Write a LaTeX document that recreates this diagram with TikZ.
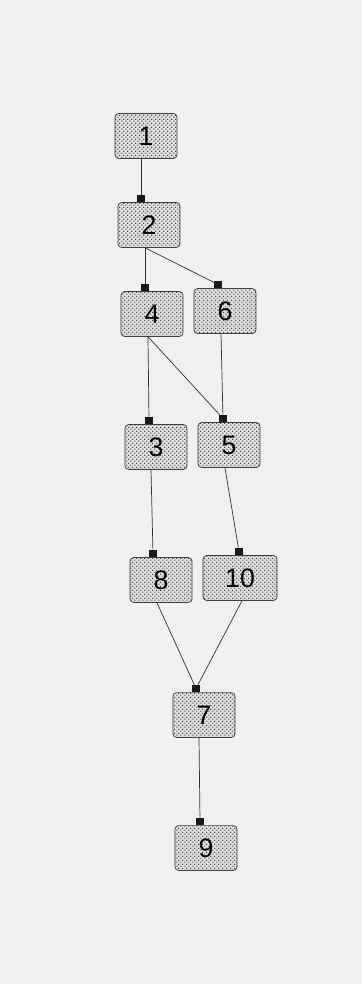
\documentclass[tikz,border=0pt]{standalone}
\usepackage{fontspec}
\setmainfont{Liberation Sans}
\usetikzlibrary{calc,patterns}

\pgfdeclarepatternformonly{taskdots}{\pgfpointorigin}{\pgfqpoint{3pt}{3pt}}{\pgfqpoint{3pt}{3pt}}{%
  \pgfpathcircle{\pgfqpoint{0.75pt}{0.75pt}}{0.55pt}%
  \pgfpathcircle{\pgfqpoint{2.25pt}{2.25pt}}{0.55pt}%
  \pgfusepath{fill}}

\begin{document}
\begin{tikzpicture}[x=0.025cm, y=-0.025cm,
    task/.style={rectangle, draw=black!75, line width=0.5pt, rounded corners=2.5pt,
        fill=gray!25, postaction={pattern=taskdots, pattern color=black!80},
        minimum width=1.55cm, minimum height=1.12cm, inner sep=0pt,
        font=\fontsize{19}{19}\selectfont},
    port/.style={rectangle, fill=black!90, minimum size=5pt, inner sep=0pt, anchor=south},
    link/.style={draw=black!80, line width=0.5pt}]

    % page
    \fill[black!6] (0,0) rectangle (362,984);
    \useasboundingbox (0,0) rectangle (362,984);

    % Tasks
    \node [task] (n1) at (146,136) {1};
    \node [task] (n2) at (149,225) {2};
    \node [task] (n4) at (152,314) {4};
    \node [task] (n6) at (225,311) {6};
    \node [task] (n3) at (156,447) {3};
    \node [task] (n5) at (229,445) {5};
    \node [task] (n8) at (161,580) {8};
    \node [task, minimum width=1.85cm] (n10) at (240,578) {10};
    \node [task] (n7) at (204,715) {7};
    \node [task] (n9) at (206,848) {9};

    % Input ports
    \node [port] (p2) at ($(n2.north)+(-8,0)$) {};
    \node [port] (p4) at ($(n4.north)+(-7,0)$) {};
    \node [port] (p6) at ($(n6.north)+(-7,0)$) {};
    \node [port] (p3) at ($(n3.north)+(-7,0)$) {};
    \node [port] (p5) at ($(n5.north)+(-6,0)$) {};
    \node [port] (p8) at ($(n8.north)+(-8,0)$) {};
    \node [port] (p10) at ($(n10.north)+(-1,0)$) {};
    \node [port] (p7) at ($(n7.north)+(-8,0)$) {};
    \node [port] (p9) at ($(n9.north)+(-6,0)$) {};

    % Precedences
    \path [link] ($(n1.south)+(-5,0)$) -- (p2);
    \path [link] ($(n2.south)+(-4,0)$) -- (p4);
    \path [link] ($(n2.south)+(-4,0)$) -- (p6);
    \path [link] ($(n4.south)+(-4,0)$) -- (p3);
    \path [link] ($(n4.south)+(-4,0)$) -- (p5);
    \path [link] ($(n6.south)+(-4,0)$) -- (p5);
    \path [link] ($(n3.south)+(-5,0)$) -- (p8);
    \path [link] ($(n5.south)+(-4,0)$) -- (p10);
    \path [link] ($(n8.south)+(-4,0)$) -- (p7);
    \path [link] ($(n10.south)+(2,0)$) -- (p7);
    \path [link] ($(n7.south)+(-5,0)$) -- (p9);

\end{tikzpicture}
\end{document}
